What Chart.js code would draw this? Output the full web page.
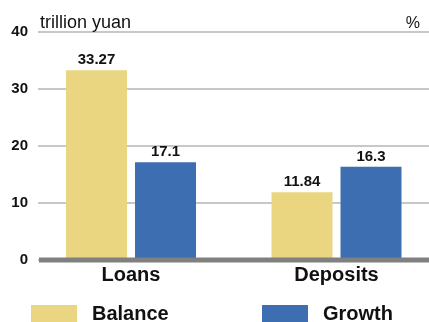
<!DOCTYPE html>
<html>
<head>
<meta charset="utf-8">
<script src="https://cdn.jsdelivr.net/npm/chart.js@4/dist/chart.umd.min.js"></script>
<style>
  html, body { margin: 0; padding: 0; background: #ffffff; overflow: hidden; }
  #wrap { position: relative; width: 429px; height: 322px; }
</style>
</head>
<body>
<div id="wrap"><canvas id="chart" width="429" height="322"></canvas></div>
<script>
const categories = ['Loans', 'Deposits'];
const balance = [33.27, 11.84];
const growth = [17.1, 16.3];
const yTicks = [0, 10, 20, 30, 40];
const seriesNames = ['Balance', 'Growth'];
const unitLeft = 'trillion yuan';
const unitRight = '%';

const colors = ['#ead680', '#3e6eb2'];
const FONT = '"Liberation Sans", Arial, sans-serif';

// x on a linear scale so the two groups sit where the reference has them
const toPoints = (arr) => arr.map((v, i) => ({ x: i, y: v }));

// value labels above the bars
const valueLabels = {
    id: 'valueLabels',
    afterDatasetsDraw(chart) {
        const ctx = chart.ctx;
        ctx.save();
        ctx.font = 'bold 15px ' + FONT;
        ctx.fillStyle = '#111111';
        ctx.textAlign = 'center';
        ctx.textBaseline = 'alphabetic';
        chart.data.datasets.forEach((ds, di) => {
            chart.getDatasetMeta(di).data.forEach((bar, i) => {
                ctx.fillText(String(ds.data[i].y), bar.x, bar.y - 6);
            });
        });
        // thick zero line drawn over the bar bottoms
        const y = chart.scales.y;
        const py = Math.round(y.getPixelForValue(0));
        ctx.strokeStyle = '#808080';
        ctx.lineWidth = 5;
        ctx.beginPath();
        ctx.moveTo(chart.chartArea.left + 1, py);
        ctx.lineTo(chart.chartArea.right, py);
        ctx.stroke();
        ctx.restore();
    },
};

// unit captions and the legend at the bottom
const extras = {
    id: 'extras',
    afterDraw(chart) {
        const ctx = chart.ctx;
        ctx.save();
        ctx.fillStyle = '#111111';
        ctx.textBaseline = 'alphabetic';
        ctx.font = '18px ' + FONT;
        ctx.textAlign = 'left';
        ctx.fillText(unitLeft, 40, 28);
        ctx.font = '16px ' + FONT;
        ctx.textAlign = 'right';
        ctx.fillText(unitRight, 420, 28);

        const boxX = [31, 262];
        ctx.font = 'bold 20px ' + FONT;
        ctx.textAlign = 'left';
        chart.data.datasets.forEach((ds, i) => {
            ctx.fillStyle = ds.backgroundColor;
            ctx.fillRect(boxX[i], 305, 46, 18);
            ctx.fillStyle = '#111111';
            ctx.fillText(ds.label, boxX[i] + 61, 320);
        });
        ctx.restore();
    },
};

new Chart(document.getElementById('chart'), {
    type: 'bar',
    data: {
        datasets: [
            { label: seriesNames[0], data: toPoints(balance), backgroundColor: colors[0] },
            { label: seriesNames[1], data: toPoints(growth), backgroundColor: colors[1] },
        ],
    },
    options: {
        responsive: false,
        animation: false,
        events: [],
        layout: { padding: { top: 32, bottom: 22.5, left: 0, right: 0 } },
        datasets: {
            bar: {
                categoryPercentage: 0.6715,
                barPercentage: 0.884,
                borderWidth: 0,
            },
        },
        scales: {
            x: {
                type: 'linear',
                offset: false,
                min: -0.4526,
                max: 1.4501,
                afterBuildTicks: (scale) => {
                    scale.ticks = categories.map((c, i) => ({ value: i }));
                },
                afterFit: (scale) => { scale.height = 40; },
                border: { display: false },
                grid: { display: false, drawTicks: false, offset: false },
                ticks: {
                    callback: (v) => categories[v],
                    color: '#111111',
                    font: { family: FONT, size: 20, weight: 'bold' },
                    padding: 4,
                    maxRotation: 0,
                    autoSkip: false,
                },
            },
            y: {
                min: 0,
                max: 40,
                afterBuildTicks: (scale) => {
                    scale.ticks = yTicks.map((v) => ({ value: v }));
                },
                afterFit: (scale) => { scale.width = 38; },
                border: { display: false },
                grid: {
                    drawTicks: false,
                    color: '#c8c8c8',
                    lineWidth: 2,
                },
                ticks: {
                    color: '#111111',
                    font: { family: FONT, size: 15, weight: 'bold' },
                    padding: 10,
                },
            },
        },
        plugins: {
            legend: { display: false },
            tooltip: { enabled: false },
        },
    },
    plugins: [valueLabels, extras],
});
</script>
</body>
</html>
